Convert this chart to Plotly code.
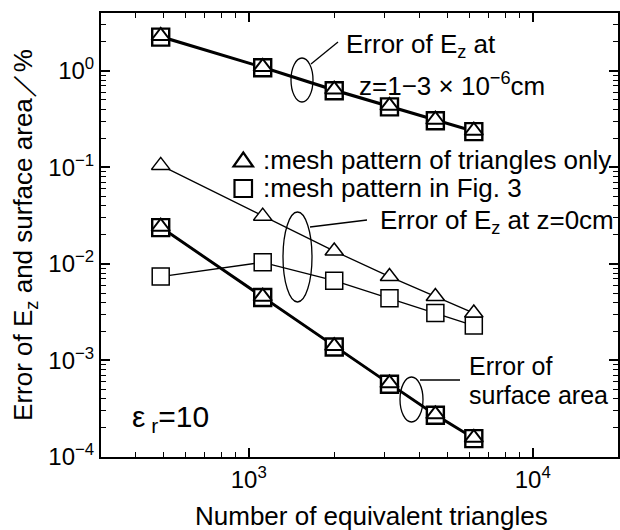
import plotly.graph_objects as go

# ---------------- data ----------------
n_triangles = [490, 1120, 2000, 3130, 4540, 6200]

# Error of Ez at z = 1-3e-6 cm
top_square = [2.24, 1.08, 0.623, 0.424, 0.305, 0.235]
top_triangle = [2.30, 1.10, 0.64, 0.435, 0.312, 0.240]

# Error of Ez at z = 0 cm
mid_triangle = [0.105, 0.0313, 0.0136, 0.0074, 0.0046, 0.0031]
mid_square = [0.0074, 0.0104, 0.0067, 0.0044, 0.0031, 0.0023]

# Error of surface area
bot_square = [0.0238, 0.0045, 0.00138, 0.000568, 0.000271, 0.000155]
bot_triangle = [0.0243, 0.00458, 0.00141, 0.000580, 0.000277, 0.000158]

y_tickvals = [1e-4, 1e-3, 1e-2, 1e-1, 1e0]
y_ticktext = ["10<sup>−4</sup>", "10<sup>−3</sup>", "10<sup>−2</sup>", "10<sup>−1</sup>", "10<sup>0</sup>"]
x_tickvals = [1e3, 1e4]
x_ticktext = ["10<sup>3</sup>", "10<sup>4</sup>"]

FONT = "Liberation Sans, Arial, Helvetica, sans-serif"

# plot-area pixel frame (for placing decorations)
L, R, T, B = 101, 618, 13, 457


def px(x):
    return (x - L) / (R - L)


def py(y):
    return (B - y) / (B - T)


fig = go.Figure()

# lines first
for ys, w in [(top_square, 2.2), (top_triangle, 2.2), (bot_square, 2.2), (bot_triangle, 2.2),
              (mid_triangle, 1.3), (mid_square, 1.3)]:
    fig.add_trace(go.Scatter(x=n_triangles, y=ys, mode="lines",
                             line=dict(color="black", width=w), showlegend=False, hoverinfo="skip"))

# squares
for ys, w in [(top_square, 2.4), (bot_square, 2.4), (mid_square, 1.5)]:
    fig.add_trace(go.Scatter(x=n_triangles, y=ys, mode="markers",
                             marker=dict(symbol="square", size=17, color="white",
                                         line=dict(color="black", width=w)),
                             showlegend=False, hoverinfo="skip"))
# triangles
for ys, w in [(top_triangle, 2.0), (bot_triangle, 2.0), (mid_triangle, 1.5)]:
    fig.add_trace(go.Scatter(x=n_triangles, y=ys, mode="markers",
                             marker=dict(symbol="triangle-up", size=16, color="white",
                                         line=dict(color="black", width=w)),
                             showlegend=False, hoverinfo="skip"))

shapes = []
# ellipses
for (x0, x1, y0, y1) in [(291, 313, 58, 102), (283, 312, 212, 302), (400, 423, 377, 422)]:
    shapes.append(dict(type="circle", xref="paper", yref="paper",
                       x0=px(x0), x1=px(x1), y0=py(y1), y1=py(y0),
                       line=dict(color="black", width=1.3)))
# leader lines
for (xa, ya, xb, yb) in [(311, 64, 338, 42), (310, 227, 367, 220), (420, 380, 460, 380)]:
    shapes.append(dict(type="line", xref="paper", yref="paper",
                       x0=px(xa), y0=py(ya), x1=px(xb), y1=py(yb),
                       line=dict(color="black", width=1.3)))
# legend symbols
tri = [(233.5, 166.5), (253, 166.5), (243.3, 152.5)]
path = "M {} {} L {} {} L {} {} Z".format(*[v for p in tri for v in (px(p[0]), py(p[1]))])
shapes.append(dict(type="path", xref="paper", yref="paper", path=path,
                   line=dict(color="black", width=2.2), fillcolor="white"))
shapes.append(dict(type="rect", xref="paper", yref="paper",
                   x0=px(234.5), x1=px(252), y0=py(197), y1=py(180),
                   line=dict(color="black", width=2.2), fillcolor="white"))

annos = []


def txt(text, x, y, size=26, **kw):
    d = dict(text=text, xref="paper", yref="paper", x=px(x), y=py(y),
             xanchor="left", yanchor="middle", showarrow=False,
             font=dict(family=FONT, size=size, color="black"))
    d.update(kw)
    annos.append(d)


txt("Error of E<sub>z</sub> at", 344, 45)
txt("z=1−3 × 10<sup>−6</sup>cm", 357, 84)
txt(":mesh pattern of triangles only", 261, 160)
txt(":mesh pattern in Fig. 3", 261, 188)
txt("Error of E<sub>z</sub> at z=0cm", 378, 222)
txt("Error of", 467, 366, size=25)
txt("surface area", 467, 395, size=25)
txt("ε<sub> r</sub>=10", 130, 418, size=30)
# x axis title
txt("Number of equivalent triangles", 371, 516, xanchor="center")

fig.update_layout(
    width=620, height=530,
    margin=dict(l=L, r=620 - R, t=T, b=530 - B),
    paper_bgcolor="white", plot_bgcolor="white",
    font=dict(family=FONT, size=24, color="black"),
    shapes=shapes, annotations=annos,
    showlegend=False,
)
fig.update_xaxes(type="log", range=[2.48, 4.30], tickvals=x_tickvals, ticktext=x_ticktext,
                 ticks="inside", ticklen=9, tickwidth=1.5, tickcolor="black",
                 showline=True, linecolor="black", linewidth=2, mirror="ticks",
                 showgrid=False, zeroline=False, tickfont=dict(size=24),
                 minor=dict(ticks="inside", ticklen=5, tickwidth=1.2, tickcolor="black",
                            dtick="D1", showgrid=False))
fig.update_yaxes(type="log", range=[-4, 0.6], tickvals=y_tickvals, ticktext=y_ticktext,
                 ticks="inside", ticklen=9, tickwidth=1.5, tickcolor="black",
                 showline=True, linecolor="black", linewidth=2, mirror="ticks",
                 showgrid=False, zeroline=False, tickfont=dict(size=24),
                 title=dict(text="Error of E<sub>z</sub> and surface area／%",
                            font=dict(family=FONT, size=26), standoff=8),
                 automargin=False,
                 minor=dict(ticks="inside", ticklen=5, tickwidth=1.2, tickcolor="black",
                            dtick="D1", showgrid=False))

fig.write_html("out.html")
